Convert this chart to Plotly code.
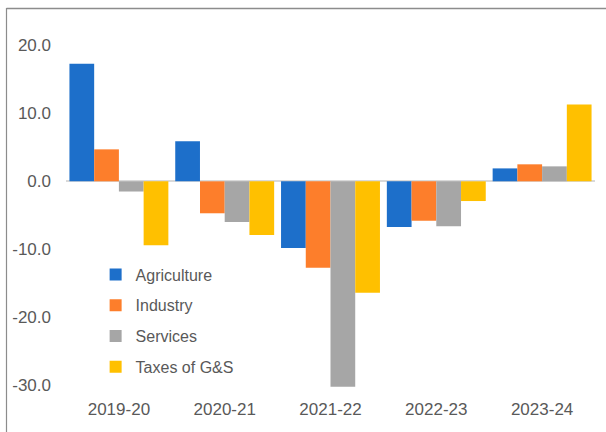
import plotly.graph_objects as go

years = ["2019-20", "2020-21", "2021-22", "2022-23", "2023-24"]
agriculture = [17.3, 5.9, -9.8, -6.7, 1.9]
industry = [4.7, -4.7, -12.7, -5.8, 2.5]
services = [-1.5, -6.0, -30.2, -6.6, 2.2]
taxes = [-9.4, -7.9, -16.4, -2.9, 11.3]

series_names = ["Agriculture", "Industry", "Services", "Taxes of G&S"]
series_values = [agriculture, industry, services, taxes]
colors = ["#1D6FCA", "#FD7E2B", "#A6A6A6", "#FFC000"]
y_ticks = [20, 10, 0, -10, -20, -30]

FONT = "Liberation Sans, Arial, sans-serif"
TXT = "#595959"

fig = go.Figure()
for i, (name, vals, col) in enumerate(zip(series_names, series_values, colors)):
    fig.add_trace(go.Bar(
        x=years, y=vals, name=name, marker=dict(color=col, line=dict(width=0)),
        legendgroup=name,
    ))

fig.update_layout(
    width=606, height=432,
    margin=dict(l=66, r=11, t=43, b=43),
    paper_bgcolor="white", plot_bgcolor="white",
    barmode="group", bargap=0.065, bargroupgap=0,
    font=dict(family=FONT, color=TXT),
    showlegend=True,
    legend=dict(
        x=0.056, y=0.38, xanchor="left", yanchor="top",
        bgcolor="rgba(0,0,0,0)", font=dict(size=16, color=TXT, family=FONT),
        traceorder="grouped", tracegroupgap=7,
    ),
    xaxis=dict(
        showgrid=False, showline=False, zeroline=False, ticks="",
        tickfont=dict(size=17, color=TXT, family=FONT), ticklabelstandoff=8,
    ),
    yaxis=dict(
        range=[-30.54, 20.34], tickvals=y_ticks,
        ticktext=[f"{v:.1f}" for v in y_ticks],
        showgrid=False, showline=False, ticks="",
        zeroline=True, zerolinecolor="#D9D9D9", zerolinewidth=1.5,
        tickfont=dict(size=17, color=TXT, family=FONT), ticklabelstandoff=14,
    ),
    shapes=[
        dict(type="line", xref="paper", yref="paper",
             x0=(6.5 - 66) / 529, x1=(6.5 - 66) / 529,
             y0=(389 - 8) / 346, y1=(389 - 440) / 346,
             line=dict(color="#8C8C8C", width=1.2)),
        dict(type="line", xref="paper", yref="paper",
             x0=(6.5 - 66) / 529, x1=(620 - 66) / 529,
             y0=(389 - 8.5) / 346, y1=(389 - 8.5) / 346,
             line=dict(color="#8C8C8C", width=1.5)),
    ],
)

fig.write_html("out.html")
